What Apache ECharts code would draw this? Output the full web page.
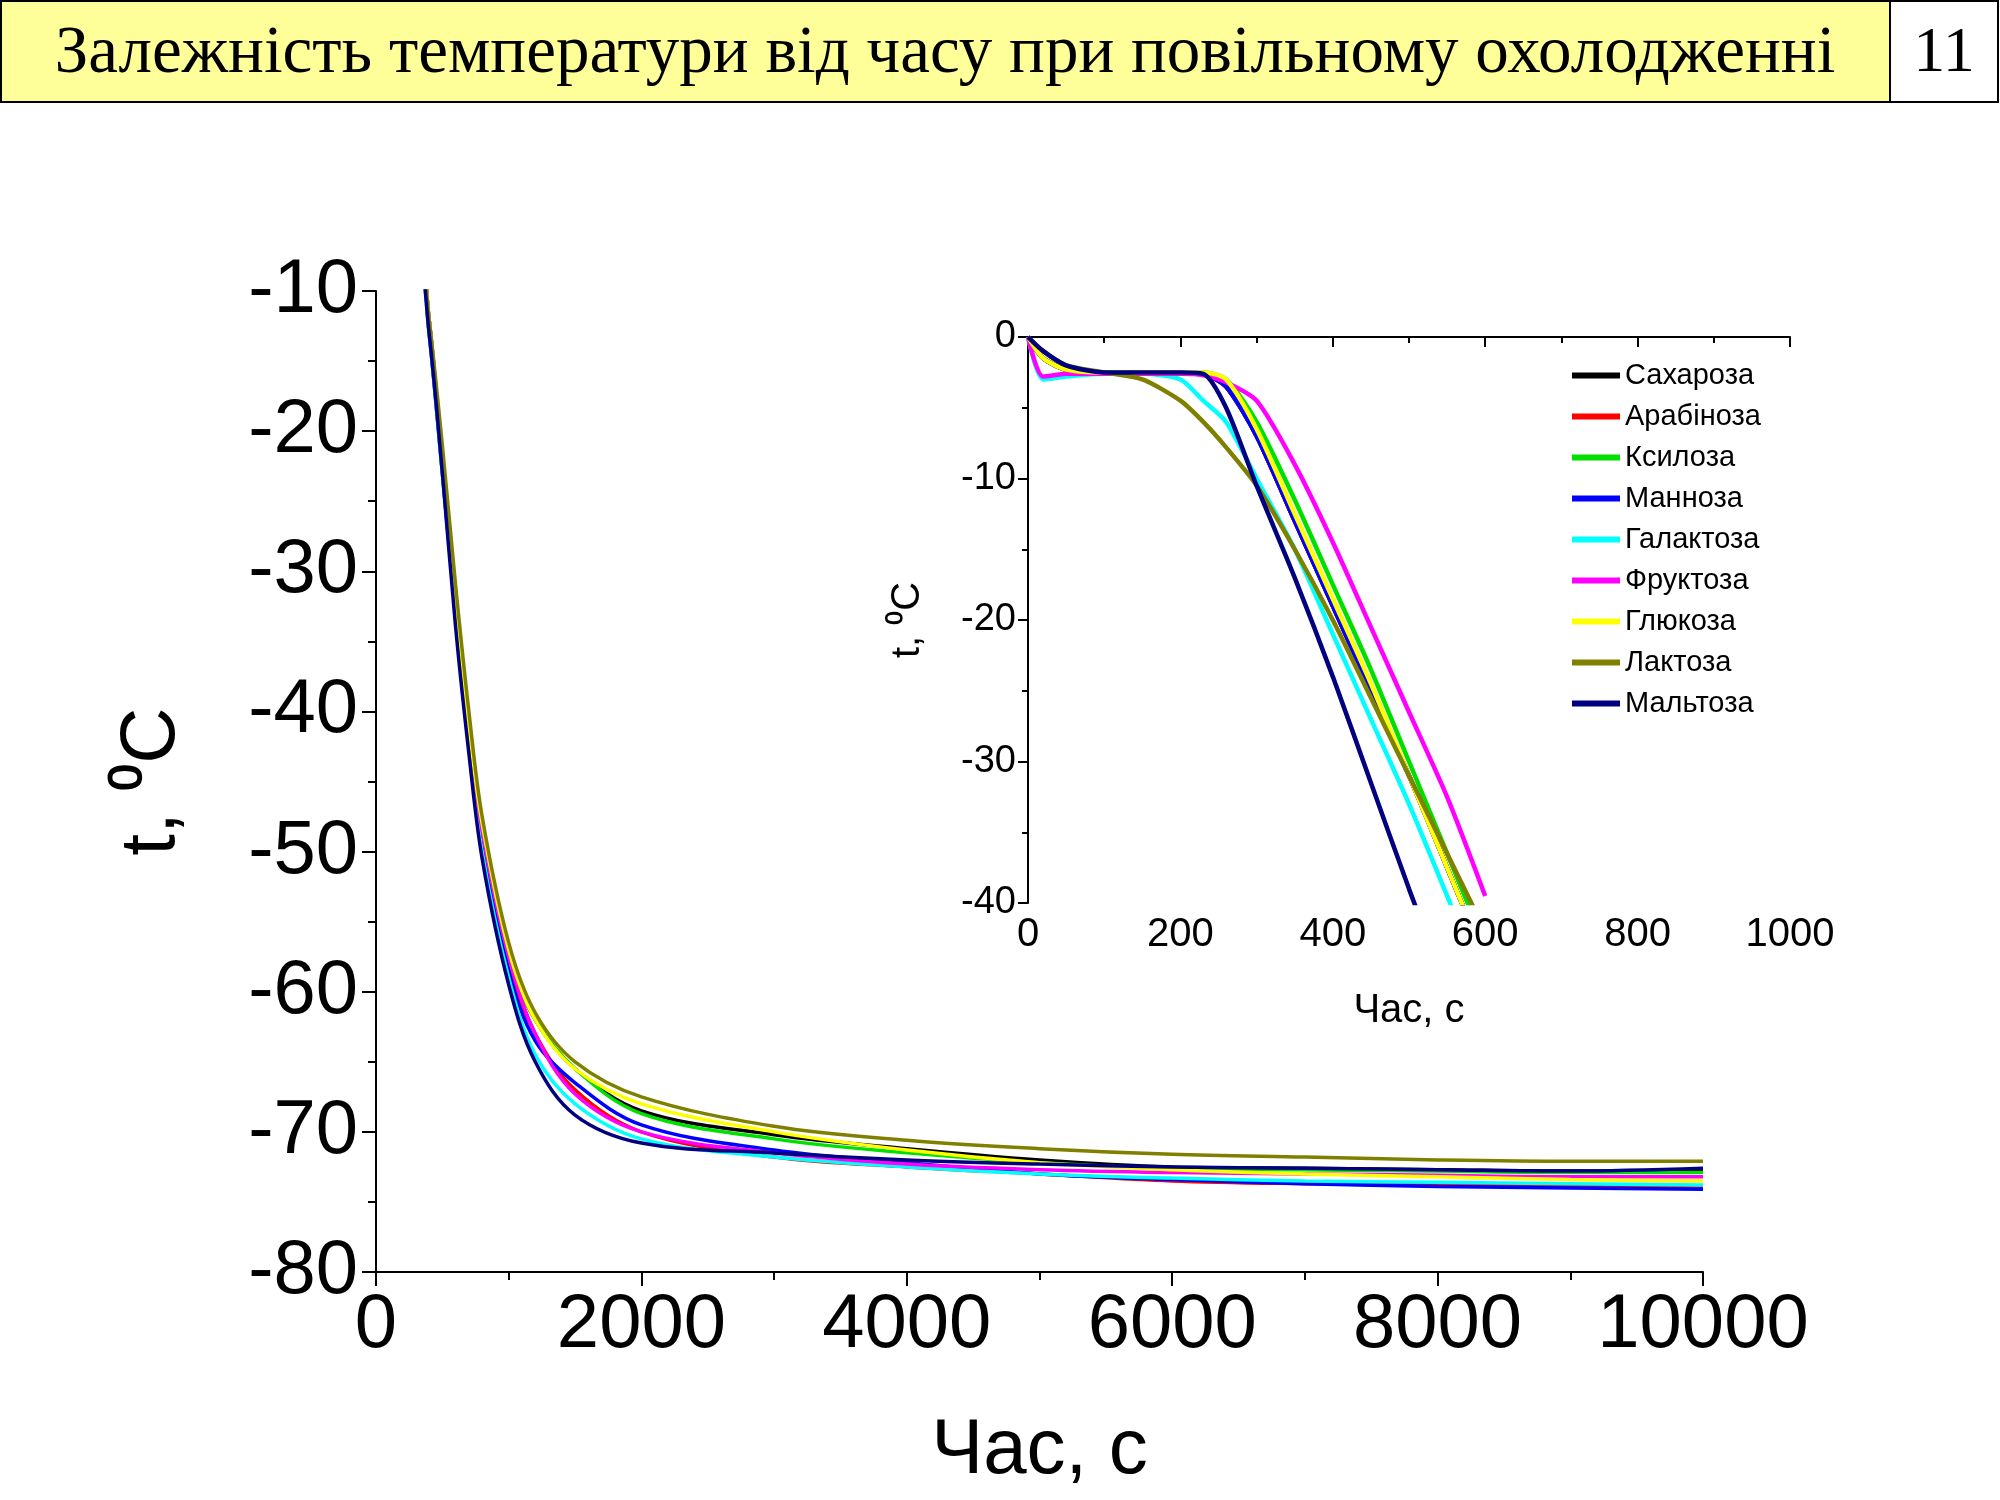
<!DOCTYPE html>
<html>
<head>
<meta charset="utf-8">
<script src="https://cdn.jsdelivr.net/npm/echarts@6/dist/echarts.min.js"></script>
<style>
html,body{margin:0;padding:0;background:#fff}
#echart{width:2000px;height:1500px}
</style>
</head>
<body>
<div id="echart"></div>
<script>
var names = ['Сахароза','Арабіноза','Ксилоза','Манноза','Галактоза','Фруктоза','Глюкоза','Лактоза','Мальтоза'];
var colors = ['#000000','#ff0000','#00e000','#0000ff','#00ffff','#ff00ff','#ffff00','#808000','#000080'];

// main chart: time, s
var mainT = [0, 300, 400, 500, 600, 700, 800, 1000, 1200, 1500, 2000, 3000, 4000, 5000, 6000, 7000, 8000, 9000, 10000];
var mainSucrose   = [0, -5, -12, -22, -32, -41, -48, -57.5, -62,   -65.5, -68.5, -70.2, -71.2, -72,   -72.5, -72.6, -72.7, -72.8, -72.8];
var mainArabinose = [0, -5, -12, -22, -32, -41, -48.5, -58, -63,   -67,   -70,   -71.8, -72.5, -73,   -73.5, -73.7, -73.8, -73.9, -74];
var mainXylose    = [0, -5, -12, -22, -32, -41, -48, -57.5, -62,   -65.5, -68.7, -70.5, -71.5, -72.2, -72.6, -72.7, -72.8, -72.9, -72.9];
var mainMannose   = [0, -5, -13, -23, -33, -42, -49.5, -58.5, -63.5, -66.5, -69.5, -71.3, -72.2, -73,  -73.4, -73.7, -73.9, -74,   -74.1];
var mainGalactose = [0, -6, -13, -23, -33, -42, -50, -59, -64.5, -68,   -70.5, -71.8, -72.5, -73,   -73.3, -73.5, -73.6, -73.7, -73.8];
var mainFructose  = [0, -5, -12, -22, -32, -41, -48.5, -57.5, -63, -67.3, -70,   -71.5, -72.3, -72.7, -72.9, -73,   -73.1, -73.2, -73.2];
var mainGlucose   = [0, -5, -12, -22, -32, -41, -48, -57, -62,   -65.5, -68,   -70,   -71.3, -72.2, -72.7, -73,   -73.2, -73.4, -73.5];
var mainLactose   = [0, -5, -12, -21, -31, -40, -47.5, -56.5, -61.5, -65, -67.5, -69.6, -70.6, -71.2, -71.6, -71.8, -72,   -72.1, -72.1];
var mainMaltose   = [0, -6, -13, -23, -34, -43, -50.5, -59.5, -65, -68.8, -70.8, -71.5, -72,   -72.3, -72.5, -72.6, -72.7, -72.8, -72.6];

// inset: time, s
var insT = [0, 20, 50, 100, 150, 200, 230, 260, 300, 350, 400, 450, 500, 550, 600];
var insSucrose   = [0, -1.5, -2.3, -2.5, -2.5, -2.5, -2.6, -3.5, -7,   -13,  -19,  -25,  -31,  -37.5, -44];
var insArabinose = [0, -1.5, -2.3, -2.5, -2.5, -2.5, -2.6, -3.5, -7,   -13,  -19,  -25,  -31,  -37.5, -44];
var insXylose    = [0, -1.5, -2.3, -2.5, -2.5, -2.5, -2.5, -3,   -6,   -11.5, -17.5, -23.5, -30, -36.5, -43];
var insMannose   = [0, -1.5, -2.3, -2.5, -2.5, -2.5, -2.6, -3.5, -7,   -13,  -19,  -25,  -31,  -37.5, -44];
var insGalactose = [0, -3,   -2.8, -2.6, -2.6, -3,   -4.5, -6,   -10,  -15,  -21,  -27,  -33,  -39.5, -46];
var insFructose  = [0, -2.8, -2.6, -2.6, -2.6, -2.6, -2.7, -3.2, -4.5, -9,   -14.5, -20.5, -26.5, -32.5, -39.5];
var insGlucose   = [0, -1.5, -2.3, -2.5, -2.5, -2.5, -2.5, -3,   -6.5, -12.5, -18.5, -24.5, -31, -37.5, -44];
var insLactose   = [0, -1,   -2,   -2.5, -3,   -4.5, -6,   -7.8, -10.5, -15, -20,  -25.5, -31,  -36.5, -42];
var insMaltose   = [0, -1,   -2,   -2.5, -2.5, -2.5, -2.6, -5,   -10.5, -17, -24,  -31.5, -39,  -46,   -52];

var mainData = [mainSucrose, mainArabinose, mainXylose, mainMannose, mainGalactose, mainFructose, mainGlucose, mainLactose, mainMaltose];
var insData = [insSucrose, insArabinose, insXylose, insMannose, insGalactose, insFructose, insGlucose, insLactose, insMaltose];

function pairs(t, v) { return t.map(function (x, i) { return [x, v[i]]; }); }
function plain(v) { return String(v); }

var series = [];
names.forEach(function (n, i) {
    series.push({ name: n, type: 'line', xAxisIndex: 0, yAxisIndex: 0, showSymbol: false, smooth: 0.35,
        data: pairs(mainT, mainData[i]), lineStyle: { color: colors[i], width: 3.5 }, itemStyle: { color: colors[i] } });
});
names.forEach(function (n, i) {
    series.push({ name: n, type: 'line', xAxisIndex: 1, yAxisIndex: 1, showSymbol: false, smooth: 0.25,
        data: pairs(insT, insData[i]), lineStyle: { color: colors[i], width: 4.5 }, itemStyle: { color: colors[i] } });
});

var axisLine = { lineStyle: { color: '#000', width: 2 } };
var bigMinor = { show: true, splitNumber: 2, length: 8, lineStyle: { color: '#000', width: 2 } };
var smallMinor = { show: true, splitNumber: 2, length: 6, lineStyle: { color: '#000', width: 2 } };

var myChart = echarts.init(document.getElementById('echart'));
var option = {
    animation: false,
    textStyle: { fontFamily: 'Liberation Sans, Arial' },
    graphic: [
        { type: 'rect', shape: { x: 1, y: 1, width: 1889, height: 101 }, style: { fill: '#ffff99', stroke: '#000', lineWidth: 2 } },
        { type: 'rect', shape: { x: 1890, y: 1, width: 108, height: 101 }, style: { fill: '#fff', stroke: '#000', lineWidth: 2 } },
        { type: 'text', x: 945, y: 54, style: { text: 'Залежність температури від часу при повільному охолодженні', fontFamily: 'Liberation Serif', fontSize: 67, fill: '#000', textAlign: 'center', textVerticalAlign: 'middle' } },
        { type: 'text', x: 1944, y: 54, style: { text: '11', fontFamily: 'Liberation Serif', fontSize: 64, fill: '#000', textAlign: 'center', textVerticalAlign: 'middle' } }
    ],
    legend: {
        data: names, orient: 'vertical', left: 1567, top: 356, itemGap: 12,
        icon: 'rect', itemWidth: 48, itemHeight: 6,
        textStyle: { fontSize: 29, color: '#000', padding: [0, 0, 0, 0] }
    },
    grid: [
        { left: 376, top: 291, width: 1327, height: 981 },
        { left: 1028, top: 337, width: 762, height: 566, z: 10 }
    ],
    xAxis: [
        { gridIndex: 0, type: 'value', min: 0, max: 10000, interval: 2000,
            name: 'Час, с', nameLocation: 'middle', nameGap: 140, nameTextStyle: { fontSize: 78, color: '#000' },
            axisLabel: { fontSize: 76, color: '#000', margin: 16, formatter: plain },
            axisTick: { length: 14, lineStyle: { color: '#000', width: 2 } },
            axisLine: axisLine, minorTick: bigMinor, splitLine: { show: false } },
        { gridIndex: 1, type: 'value', min: 0, max: 1000, interval: 200,
            name: 'Час, с', nameLocation: 'middle', nameGap: 88, nameTextStyle: { fontSize: 40, color: '#000' },
            axisLabel: { fontSize: 40, color: '#000', margin: 12, formatter: plain },
            axisTick: { length: 10, lineStyle: { color: '#000', width: 2 } },
            axisLine: axisLine, minorTick: smallMinor, splitLine: { show: false } }
    ],
    yAxis: [
        { gridIndex: 0, type: 'value', min: -80, max: -10, interval: 10,
            name: 't, ⁰C', nameLocation: 'middle', nameGap: 185, nameRotate: 90, nameTextStyle: { fontSize: 78, color: '#000' },
            axisLabel: { fontSize: 76, color: '#000', margin: 18 },
            axisTick: { length: 14, lineStyle: { color: '#000', width: 2 } },
            axisLine: axisLine, minorTick: bigMinor, splitLine: { show: false } },
        { gridIndex: 1, type: 'value', min: -40, max: 0, interval: 10,
            name: 't, ⁰C', nameLocation: 'middle', nameGap: 100, nameRotate: 90, nameTextStyle: { fontSize: 40, color: '#000' },
            axisLabel: { fontSize: 38, color: '#000', margin: 12 },
            axisTick: { length: 10, lineStyle: { color: '#000', width: 2 } },
            axisLine: axisLine, minorTick: smallMinor, splitLine: { show: false } }
    ],
    series: series
};
myChart.setOption(option);
window.onresize = myChart.resize;
</script>
</body>
</html>
